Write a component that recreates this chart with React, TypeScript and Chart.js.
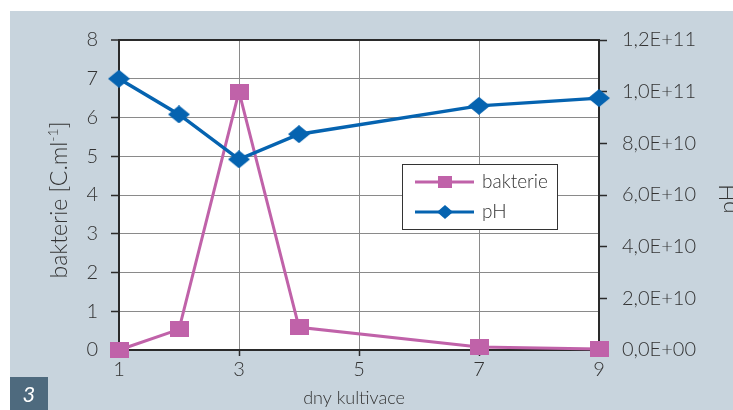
import React, { useEffect, useRef } from "react";
import { Chart, registerables } from "chart.js";

Chart.register(...registerables);

// ---- data ----
const days = [1, 2, 3, 4, 7, 9];
const phValues = [7.0, 6.08, 4.92, 5.57, 6.3, 6.5];
const bakterieValues = [0, 8.0e9, 1.0e11, 8.8e9, 1.2e9, 4e8];
const seriesNames = ["bakterie", "pH"];
const xTitle = "dny kultivace";
const leftTitleMain = "bakterie [C.ml";
const leftTitleSup = "-1";
const leftTitleEnd = "]";
const rightTitle = "pH";
const panelNumber = "3";

// ---- styles ----
const PINK = "#c062a9";
const BLUE = "#0563b0";
const BG = "#c8d4dd";
const PANEL = "#4e6a7e";
const TEXT = "#333333";
const GRID = "#8a8a8a";
const AXIS = "#2a2a2a";
const FONT = "Lato";
const W = "300";

function makeRect(w: number, h: number, color: string) {
  const c = document.createElement("canvas");
  c.width = w;
  c.height = h;
  const g = c.getContext("2d")!;
  g.fillStyle = color;
  g.fillRect(0, 0, w, h);
  return c;
}
function makeDiamond(w: number, h: number, color: string) {
  const c = document.createElement("canvas");
  c.width = w;
  c.height = h;
  const g = c.getContext("2d")!;
  g.fillStyle = color;
  g.beginPath();
  g.moveTo(w / 2, 0);
  g.lineTo(w, h / 2);
  g.lineTo(w / 2, h);
  g.lineTo(0, h / 2);
  g.closePath();
  g.fill();
  return c;
}

function sciComma(v: number) {
  if (v === 0) return "0,0E+00";
  const exp = Math.floor(Math.log10(Math.abs(v)) + 1e-9);
  const m = v / Math.pow(10, exp);
  const e = String(Math.abs(exp)).padStart(2, "0");
  return m.toFixed(1).replace(".", ",") + "E" + (exp >= 0 ? "+" : "-") + e;
}

const decorPlugin = {
  id: "decor",
  beforeDraw(chart: any) {
    const { ctx, width, height, chartArea } = chart;
    ctx.save();
    ctx.fillStyle = "#ffffff";
    ctx.fillRect(0, 0, width, height);
    ctx.fillStyle = BG;
    ctx.fillRect(10, 11, width - 10, height - 11);
    ctx.fillStyle = "#ffffff";
    ctx.fillRect(chartArea.left, chartArea.top, chartArea.right - chartArea.left, chartArea.bottom - chartArea.top);
    ctx.restore();
  },
  afterDraw(chart: any) {
    const { ctx } = chart;
    ctx.save();
    // left title
    ctx.fillStyle = TEXT;
    ctx.translate(67, 200);
    ctx.rotate(-Math.PI / 2);
    const mainFont = `${W} 23px ${FONT}`;
    const supFont = `${W} 14px ${FONT}`;
    ctx.font = mainFont;
    const w1 = ctx.measureText(leftTitleMain).width;
    const w3 = ctx.measureText(leftTitleEnd).width;
    ctx.font = supFont;
    const w2 = ctx.measureText(leftTitleSup).width;
    let x0 = -(w1 + w2 + w3) / 2;
    ctx.textBaseline = "alphabetic";
    ctx.textAlign = "left";
    ctx.font = mainFont;
    ctx.fillText(leftTitleMain, x0, 0);
    ctx.font = supFont;
    ctx.fillText(leftTitleSup, x0 + w1, -9);
    ctx.font = mainFont;
    ctx.fillText(leftTitleEnd, x0 + w1 + w2, 0);
    ctx.restore();

    // right title
    ctx.save();
    ctx.fillStyle = TEXT;
    ctx.translate(736, 199);
    ctx.rotate(-Math.PI / 2);
    ctx.font = `${W} 23px ${FONT}`;
    ctx.textAlign = "center";
    ctx.textBaseline = "alphabetic";
    ctx.fillText(rightTitle, 0, 0);
    ctx.restore();

    // x title
    ctx.save();
    ctx.fillStyle = TEXT;
    ctx.font = `${W} 18px ${FONT}`;
    ctx.textAlign = "center";
    ctx.textBaseline = "middle";
    ctx.fillText(xTitle, 354, 398);
    ctx.restore();

    // panel number box
    ctx.save();
    ctx.fillStyle = PANEL;
    ctx.fillRect(10, 377, 38, 33);
    ctx.fillStyle = "#ffffff";
    ctx.font = `italic 22px ${FONT}`;
    ctx.textAlign = "center";
    ctx.textBaseline = "middle";
    ctx.fillText(panelNumber, 29, 395);
    ctx.restore();

    // legend
    ctx.save();
    const lx = 402, ly = 164, lw = 155, lh = 65;
    ctx.fillStyle = "#ffffff";
    ctx.fillRect(lx, ly, lw, lh);
    ctx.strokeStyle = "#333333";
    ctx.lineWidth = 1;
    ctx.strokeRect(lx + 0.5, ly + 0.5, lw, lh);
    const rows = [
      { name: seriesNames[0], color: PINK, y: 182, marker: "rect" },
      { name: seriesNames[1], color: BLUE, y: 212, marker: "diamond" },
    ];
    rows.forEach((r) => {
      ctx.strokeStyle = r.color;
      ctx.lineWidth = 3;
      ctx.beginPath();
      ctx.moveTo(415, r.y);
      ctx.lineTo(474, r.y);
      ctx.stroke();
      ctx.fillStyle = r.color;
      if (r.marker === "rect") {
        ctx.fillRect(445 - 7, r.y - 6, 14, 12);
      } else {
        ctx.beginPath();
        ctx.moveTo(445, r.y - 7);
        ctx.lineTo(453, r.y);
        ctx.lineTo(445, r.y + 7);
        ctx.lineTo(437, r.y);
        ctx.closePath();
        ctx.fill();
      }
      ctx.fillStyle = TEXT;
      ctx.font = `${W} 19px ${FONT}`;
      ctx.textAlign = "left";
      ctx.textBaseline = "middle";
      ctx.fillText(r.name, 482, r.y);
    });
    ctx.restore();
  },
};

export default function App() {
  const ref = useRef<HTMLCanvasElement | null>(null);
  useEffect(() => {
    if (!ref.current) return;
    const square = makeRect(19, 16, PINK);
    const diamond = makeDiamond(22, 18, BLUE);
    const tickFont = { family: FONT, size: 20, weight: W };
    const chart = new Chart(ref.current, {
      type: "line",
      data: {
        datasets: [
          {
            label: seriesNames[1],
            data: days.map((d, i) => ({ x: d, y: phValues[i] })),
            yAxisID: "y",
            borderColor: BLUE,
            backgroundColor: BLUE,
            borderWidth: 3.5,
            pointStyle: diamond as any,
            pointRadius: 10,
            pointHoverRadius: 10,
            tension: 0,
            clip: false as any,
          },
          {
            label: seriesNames[0],
            data: days.map((d, i) => ({ x: d, y: bakterieValues[i] })),
            yAxisID: "y1",
            borderColor: PINK,
            backgroundColor: PINK,
            borderWidth: 3,
            pointStyle: square as any,
            pointRadius: 10,
            pointHoverRadius: 10,
            tension: 0,
            clip: false as any,
          },
        ],
      },
      options: {
        animation: false,
        responsive: false,
        devicePixelRatio: 1,
        events: [],
        layout: { padding: { top: 40, left: 0, right: 0, bottom: 0 } },
        plugins: { legend: { display: false }, tooltip: { enabled: false } },
        scales: {
          x: {
            type: "linear",
            position: "bottom",
            min: 1,
            max: 9,
            ticks: { stepSize: 2, color: TEXT, font: tickFont, padding: 2, maxRotation: 0 },
            grid: { color: GRID, lineWidth: 1, tickLength: 6, tickColor: AXIS, tickWidth: 1.5 },
            border: { color: AXIS, width: 2 },
            afterFit: (s: any) => { s.height = 60; },
          },
          y: {
            type: "linear",
            position: "left",
            min: 0,
            max: 8,
            ticks: { stepSize: 1, color: TEXT, font: tickFont, padding: 13 },
            grid: {
              color: (c: any) => (c.tick && c.tick.value === 8 ? AXIS : GRID),
              lineWidth: (c: any) => (c.tick && c.tick.value === 8 ? 2 : 1),
              tickLength: 8,
              tickColor: AXIS,
              tickWidth: 1.5,
            },
            border: { color: AXIS, width: 2 },
            afterFit: (s: any) => { s.width = 119; },
          },
          y1: {
            type: "linear",
            position: "right",
            min: 0,
            max: 1.2e11,
            ticks: {
              stepSize: 2e10,
              color: TEXT,
              font: tickFont,
              padding: 15,
              callback: (v: any) => sciComma(Number(v)),
            },
            grid: { drawOnChartArea: false, tickLength: 8, tickColor: AXIS, tickWidth: 1.5 },
            border: { color: AXIS, width: 2 },
            afterFit: (s: any) => { s.width = 134; },
          },
        },
      },
      plugins: [decorPlugin],
    } as any);
    return () => chart.destroy();
  }, []);
  return (
    <div style={{ position: "absolute", left: 0, top: 0, width: 733, height: 410 }}>
      <canvas ref={ref} width={733} height={410} style={{ display: "block", width: 733, height: 410 }} />
    </div>
  );
}
